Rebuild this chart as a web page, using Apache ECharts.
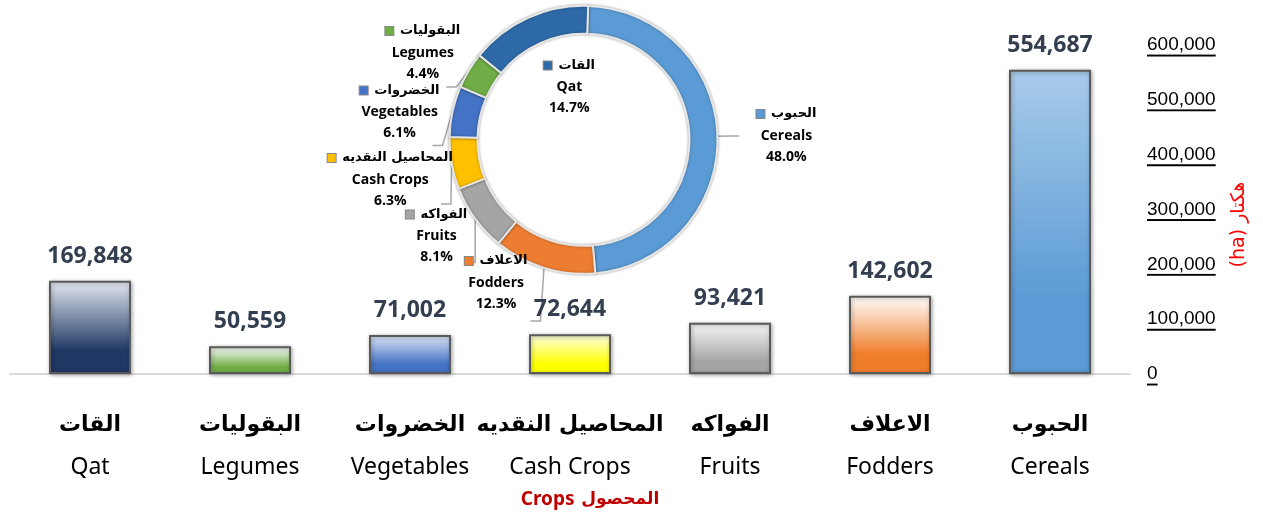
<!DOCTYPE html>
<html>
<head>
<meta charset="utf-8">
<script src="https://cdn.jsdelivr.net/npm/echarts@6/dist/echarts.min.js"></script>
<style>
  html, body { margin: 0; padding: 0; background: #fff; }
  #chart { width: 1263px; height: 514px; }
</style>
</head>
<body>
<div id="chart"></div>
<script>
// crop names and cultivated area (ha)
var cropsAr = ['القات', 'البقوليات', 'الخضروات', 'المحاصيل النقديه', 'الفواكه', 'الاعلاف', 'الحبوب'];
var cropsEn = ['Qat', 'Legumes', 'Vegetables', 'Cash Crops', 'Fruits', 'Fodders', 'Cereals'];
var areaHa = [169848, 50559, 71002, 72644, 93421, 142602, 554687];

var barTop = ['#e4e9f1', '#ffffff', '#dde6f7', '#ffffe6', '#f7f7f7', '#ffffff', '#a9cbea'];
var barBottom = ['#1f3864', '#70ad47', '#4472c4', '#ffff00', '#a5a5a5', '#f07d2a', '#5b9bd5'];
var ringColors = ['#2e6aa8', '#70ad47', '#4472c4', '#ffc000', '#a5a5a5', '#ed7d31', '#5b9bd5'];
// nudges for the ring labels (same order as the crops)
var labelDx = [87, 19, 12, 17, 6, 2, 12];
var labelDy = [58, -35, -34, -25, -27, -39, -1];

var chart = echarts.init(document.getElementById('chart'));

// underline for the value axis labels
var ul = document.createElement('canvas');
ul.width = 1; ul.height = 24;
var uctx = ul.getContext('2d');
uctx.fillStyle = '#000';
uctx.fillRect(0, 22, 1, 2);

var total = 0;
for (var k = 0; k < areaHa.length; k++) total += areaHa[k];

var barData = [];
for (var i = 0; i < areaHa.length; i++) {
    barData.push({
        value: areaHa[i],
        itemStyle: {
            color: new echarts.graphic.LinearGradient(0, 0, 0, 1, [
                { offset: 0, color: barTop[i] },
                { offset: 0.75, color: barBottom[i] },
                { offset: 1, color: barBottom[i] }
            ])
        }
    });
}

// ring goes clockwise from Cereals
var pieData = [];
for (var j = areaHa.length - 1; j >= 0; j--) {
    pieData.push({
        name: cropsEn[j],
        ar: cropsAr[j],
        idx: j,
        value: areaHa[j],
        itemStyle: { color: ringColors[j] }
    });
}

chart.setOption({
    animation: false,
    grid: { left: 10, right: 133, top: 45, bottom: 139 },
    xAxis: {
        type: 'category',
        data: cropsEn,
        axisLine: { lineStyle: { color: '#d9d9d9', width: 2 } },
        axisTick: { show: false },
        axisLabel: {
            margin: 30,
            interval: 0,
            formatter: function (v, idx) {
                return '{ar|' + cropsAr[idx] + '}\n{en|' + v + '}';
            },
            rich: {
                ar: { fontFamily: 'DejaVu Sans', fontWeight: 'bold', fontSize: 22, color: '#000', lineHeight: 42 },
                en: { fontFamily: 'Noto Sans', fontSize: 23, color: '#000', lineHeight: 42 }
            }
        },
        name: '{en|Crops}  {ar|المحصول}',
        nameLocation: 'middle',
        nameGap: 116,
        nameTextStyle: {
            padding: [0, 0, 0, 40],
            rich: {
                en: { fontFamily: 'Noto Sans', fontWeight: 'bold', fontSize: 19, color: '#c00000' },
                ar: { fontFamily: 'DejaVu Sans', fontWeight: 'bold', fontSize: 17, color: '#c00000' }
            }
        }
    },
    yAxis: {
        type: 'value',
        position: 'right',
        min: 0,
        max: 600000,
        interval: 100000,
        splitLine: { show: false },
        axisLine: { show: false },
        axisTick: { show: false },
        axisLabel: {
            margin: 17,
            formatter: function (v) {
                return '{u|' + v.toLocaleString('en-US') + '}';
            },
            rich: {
                u: {
                    fontFamily: 'Liberation Sans',
                    fontSize: 19,
                    color: '#000',
                    padding: [2, 0, 2, 0],
                    backgroundColor: { image: ul }
                }
            }
        },
        name: '(ha) هكتار',
        nameLocation: 'middle',
        nameRotate: 90,
        nameGap: 100,
        nameTextStyle: { color: '#ff0000', fontSize: 19, fontFamily: 'DejaVu Sans', padding: [0, 30, 0, 0] }
    },
    series: [{
        type: 'bar',
        data: barData,
        barWidth: 82,
        itemStyle: {
            borderColor: '#5a5a5a',
            borderWidth: 2,
            shadowColor: 'rgba(0,0,0,0.35)',
            shadowBlur: 4,
            shadowOffsetX: 1,
            shadowOffsetY: 1
        },
        label: {
            show: true,
            position: 'top',
            distance: 13,
            color: '#333f50',
            fontFamily: 'Open Sans',
            fontWeight: 'bold',
            fontSize: 23,
            formatter: function (p) {
                return p.value.toLocaleString('en-US');
            }
        }
    }, {
        type: 'pie',
        center: ['46.2%', '27.2%'],
        radius: [106, 134],
        startAngle: 88,
        data: pieData,
        itemStyle: {
            borderColor: '#e6e6e6',
            borderWidth: 2,
            shadowColor: 'rgba(0,0,0,0.3)',
            shadowBlur: 3
        },
        label: {
            show: true,
            position: 'outside',
            formatter: function (p) {
                var pct = (p.value / total * 100).toFixed(1);
                return '{sq|}  {ar|' + p.data.ar + '}\n{en|' + p.name + '}\n{pc|' + pct + '%}';
            },
            rich: {
                sq: { align: 'center', width: 8, height: 8, backgroundColor: 'inherit', borderColor: '#888', borderWidth: 1 },
                ar: { align: 'center', fontFamily: 'DejaVu Sans', fontWeight: 'bold', fontSize: 13, color: '#000', lineHeight: 22 },
                en: { align: 'center', fontFamily: 'Open Sans', fontWeight: 'bold', fontSize: 14, color: '#000', lineHeight: 22 },
                pc: { align: 'center', fontFamily: 'Open Sans', fontWeight: 'bold', fontSize: 14, color: '#000', lineHeight: 20 }
            }
        },
        labelLine: {
            length: 12,
            length2: 10,
            lineStyle: { color: '#a6a6a6', width: 1.5 }
        },
        labelLayout: function (params) {
            var d = pieData[params.dataIndex];
            return { dx: labelDx[d.idx], dy: labelDy[d.idx] };
        }
    }]
});
</script>
</body>
</html>
